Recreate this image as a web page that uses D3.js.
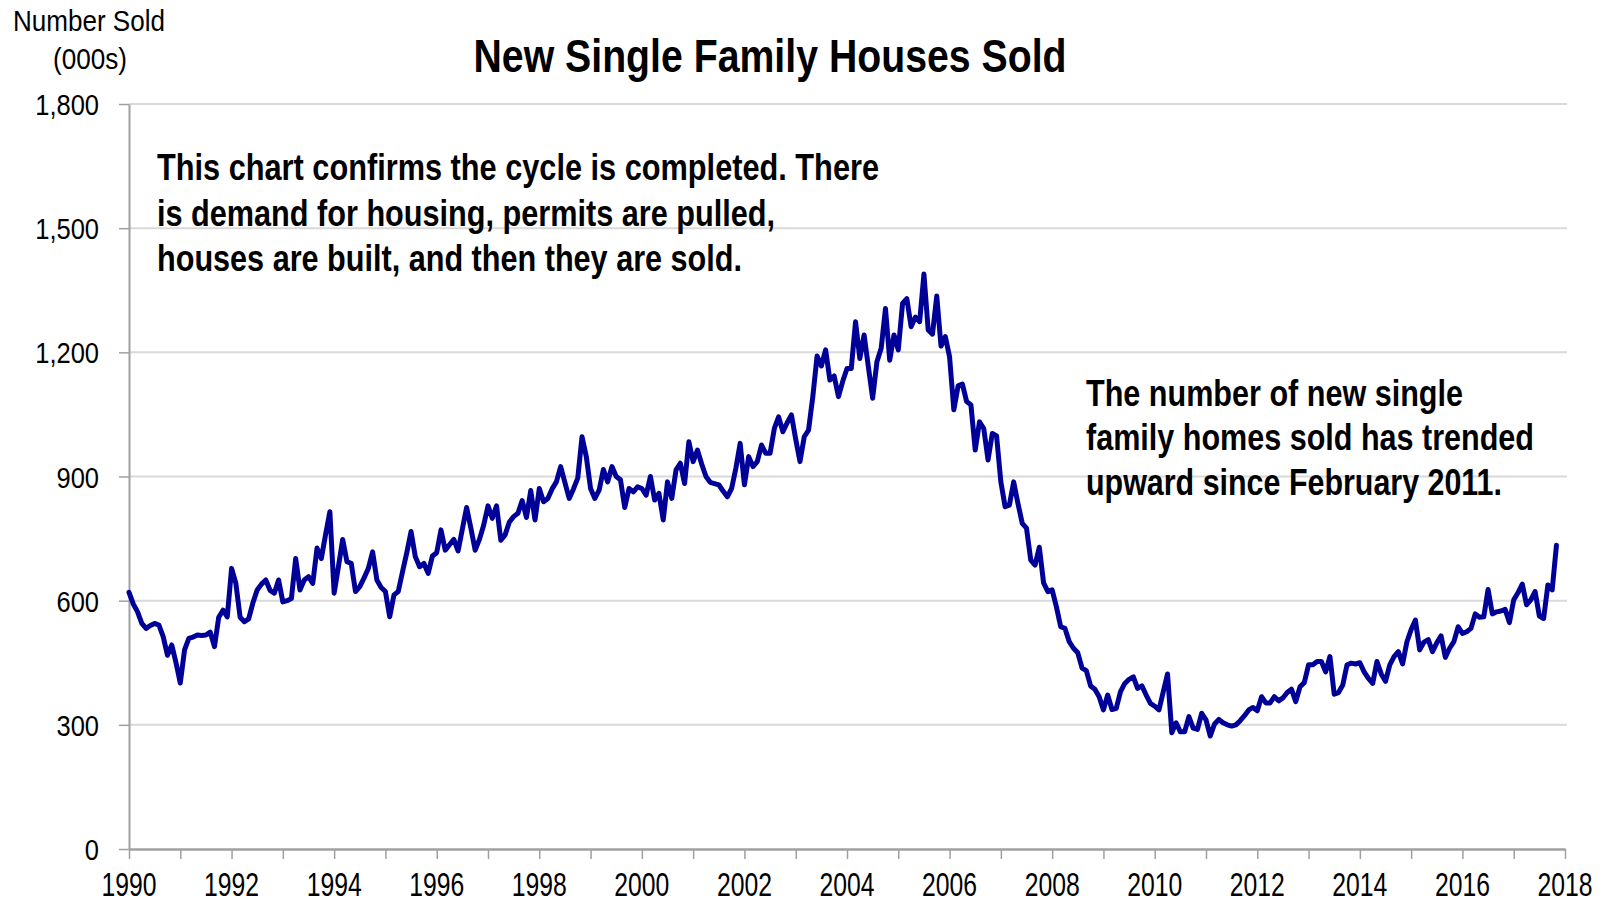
<!DOCTYPE html>
<html>
<head>
<meta charset="utf-8">
<script src="https://cdn.jsdelivr.net/npm/d3@7"></script>
<style>
  body { margin: 0; background: #fff; }
  svg { display: block; }
  text { font-family: "Liberation Sans Narrow", "Arial Narrow", "Liberation Sans", Arial, sans-serif; fill: #000; }
</style>
</head>
<body>
<div id="chart"></div>
<script>
// monthly new single family houses sold (000s, SAAR), Jan 1990 - Nov 2017
var sold1990s = [
  620, 592, 573, 545, 533, 540, 545, 541, 513, 468, 493, 450,
  401, 481, 509, 512, 517, 516, 517, 524, 489, 560, 577, 561,
  678, 642, 560, 549, 556, 595, 626, 640, 650, 625, 618, 650,
  597, 600, 605, 702, 626, 650, 658, 642, 727, 702, 760, 815,
  618, 682, 748, 694, 690, 622, 634, 655, 678, 718, 650, 632,
  622, 561, 614, 622, 670, 716, 767, 706, 682, 690, 666, 708,
  716, 771, 722, 735, 748, 720, 773, 825, 775, 722, 748, 783,
  829, 799, 829, 746, 759, 790, 803, 811, 842, 801, 866, 795,
  871, 839, 847, 870, 887, 924, 885, 847, 870, 896, 996, 948,
  871, 847, 867, 917, 887, 924, 900, 892, 825, 871, 863, 875
];
var sold2000s = [
  871, 855, 900, 843, 859, 795, 887, 847, 916, 932, 883, 984,
  936, 964, 930, 900, 886, 883, 880, 865, 851, 871, 920, 980,
  880, 948, 924, 936, 976, 956, 956, 1016, 1044, 1008, 1030, 1049,
  990, 936, 996, 1012, 1093, 1191, 1167, 1206, 1133, 1143, 1093, 1130,
  1161, 1161, 1274, 1185, 1242, 1165, 1089, 1177, 1210, 1306, 1181, 1242,
  1206, 1318, 1330, 1262, 1285, 1274, 1389, 1254, 1244, 1336, 1215, 1238,
  1189, 1061, 1119, 1123, 1081, 1073, 964, 1032, 1016, 940, 1004, 998,
  887, 827, 831, 887, 835, 787, 775, 698, 686, 729, 643, 622,
  626, 585, 537, 533, 501, 485, 474, 437, 431, 394, 386, 368,
  336, 372, 337, 340, 380, 400, 410, 416, 388, 394, 372, 352
];
var sold2010s = [
  345, 336, 380, 423, 281, 305, 283, 283, 320, 292, 289, 328,
  312, 273, 302, 313, 305, 300, 297, 300, 310, 322, 336, 342,
  334, 368, 353, 353, 368, 358, 365, 378, 386, 356, 392, 402,
  445, 445, 453, 453, 428, 465, 374, 378, 396, 445, 449, 447,
  450, 428, 412, 400, 453, 423, 405, 445, 465, 477, 447, 500,
  530, 553, 481, 500, 506, 477, 498, 515, 463, 485, 501, 537,
  521, 525, 533, 568, 560, 561, 627, 568, 573, 575, 579, 547,
  602, 619, 640, 590, 602, 622, 563, 557, 638, 626, 734
];
var startYear = 1990;
var endYear = 2018;
var yTicks = [0, 300, 600, 900, 1200, 1500, 1800];
var xLabelYears = d3.range(1990, 2019, 2);

var chartTitle = 'New Single Family Houses Sold';
var yTitle = ['Number Sold', '(000s)'];
var noteLeft = [
  'This chart confirms the cycle is completed. There',
  'is demand for housing, permits are pulled,',
  'houses are built, and then they are sold.'
];
var noteRight = [
  'The number of new single',
  'family homes sold has trended',
  'upward since February 2011.'
];

var sold = sold1990s.concat(sold2000s, sold2010s);
var data = sold.map(function (v, i) { return { m: i, value: v }; });

var width = 1608, height = 903;
var svg = d3.select('#chart').append('svg')
  .attr('width', width)
  .attr('height', height);

var x = d3.scaleLinear().domain([0, (endYear - startYear) * 12]).range([129, 1565]);
var y = d3.scaleLinear().domain([0, 1800]).range([849, 104]);

// fit a text element to a given width
function fit(sel, w) {
  sel.attr('textLength', w).attr('lengthAdjust', 'spacingAndGlyphs');
}

// gridlines
svg.append('g')
  .selectAll('line')
  .data(yTicks.filter(function (d) { return d > 0; }))
  .enter()
  .append('line')
  .attr('x1', x(0))
  .attr('x2', 1567)
  .attr('y1', function (d) { return y(d); })
  .attr('y2', function (d) { return y(d); })
  .attr('stroke', '#d9d9d9')
  .attr('stroke-width', 2);

// y axis
var yAxis = svg.append('g')
  .attr('transform', 'translate(' + x(0) + ',0)')
  .call(d3.axisLeft(y).tickValues(yTicks).tickSize(10).tickSizeOuter(0).tickFormat(''));
yAxis.select('.domain').attr('stroke', '#a0a0a0').attr('stroke-width', 2);
yAxis.selectAll('.tick line').attr('stroke', '#a0a0a0').attr('stroke-width', 1.5);

svg.append('g')
  .selectAll('text')
  .data(yTicks)
  .enter()
  .append('text')
  .attr('transform', function (d) { return 'translate(99,' + (y(d) + 11) + ') scale(0.85,1)'; })
  .attr('text-anchor', 'end')
  .style('font-family', '"Liberation Sans", Arial, sans-serif')
  .style('font-size', '30px')
  .text(d3.format(','));

// x axis
var yearTicks = d3.range(0, (endYear - startYear) * 12 + 1, 12);
var xAxis = svg.append('g')
  .attr('transform', 'translate(0,' + y(0) + ')')
  .call(d3.axisBottom(x).tickValues(yearTicks).tickSize(10).tickSizeOuter(0).tickFormat(''));
xAxis.select('.domain').attr('stroke', '#a0a0a0').attr('stroke-width', 2.5);
xAxis.selectAll('.tick line').attr('stroke', '#a0a0a0').attr('stroke-width', 1.5);

svg.append('g')
  .selectAll('text')
  .data(xLabelYears)
  .enter()
  .append('text')
  .attr('x', function (d) { return x((d - startYear) * 12); })
  .attr('y', 896)
  .attr('text-anchor', 'middle')
  .style('font-size', '34px')
  .text(function (d) { return d; })
  .call(fit, 55);

// line
var line = d3.line()
  .x(function (d) { return x(d.m); })
  .y(function (d) { return y(d.value); });

svg.append('path')
  .datum(data)
  .attr('d', line)
  .attr('fill', 'none')
  .attr('stroke', '#000099')
  .attr('stroke-width', 5)
  .attr('stroke-linejoin', 'round')
  .attr('stroke-linecap', 'round');

// title
svg.append('text')
  .attr('x', 770)
  .attr('y', 72)
  .attr('text-anchor', 'middle')
  .style('font-size', '46px')
  .style('font-weight', 'bold')
  .text(chartTitle)
  .call(fit, 593);

// y title
svg.append('text')
  .attr('x', 89)
  .attr('y', 31)
  .attr('text-anchor', 'middle')
  .style('font-size', '30px')
  .text(yTitle[0])
  .call(fit, 152);
svg.append('text')
  .attr('x', 90)
  .attr('y', 69)
  .attr('text-anchor', 'middle')
  .style('font-size', '30px')
  .text(yTitle[1])
  .call(fit, 74);

// notes
var leftWidths = [722, 618, 585];
svg.append('g')
  .selectAll('text')
  .data(noteLeft)
  .enter()
  .append('text')
  .attr('x', 157)
  .attr('y', function (d, i) { return 180 + i * 45.5; })
  .style('font-size', '36px')
  .style('font-weight', 'bold')
  .text(function (d) { return d; })
  .each(function (d, i) { d3.select(this).call(fit, leftWidths[i]); });

var rightWidths = [377, 448, 416];
svg.append('g')
  .selectAll('text')
  .data(noteRight)
  .enter()
  .append('text')
  .attr('x', 1086)
  .attr('y', function (d, i) { return 405.5 + i * 44.6; })
  .style('font-size', '36px')
  .style('font-weight', 'bold')
  .text(function (d) { return d; })
  .each(function (d, i) { d3.select(this).call(fit, rightWidths[i]); });
</script>
</body>
</html>
